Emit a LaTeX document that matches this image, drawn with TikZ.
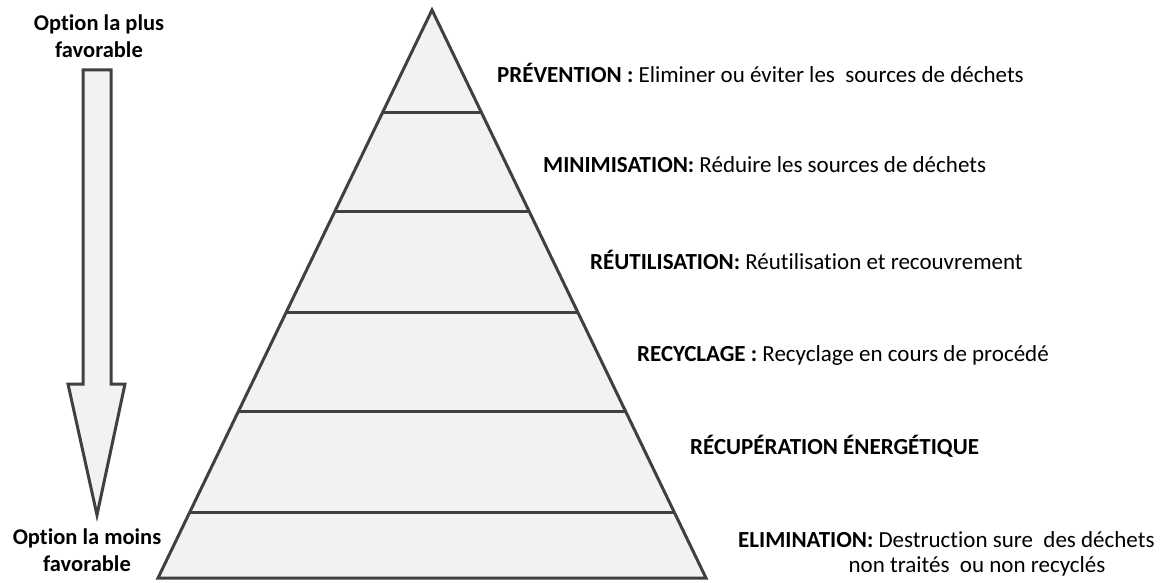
\documentclass[tikz,border=0pt]{standalone}
\usepackage{fontspec}
\setmainfont{Carlito}[Ligatures=NoCommon]
\usetikzlibrary{calc,positioning}
\definecolor{edge}{HTML}{404040}
\definecolor{pale}{HTML}{F2F2F2}
\tikzstyle{level text}=[anchor=west, inner sep=0pt, font=\fontsize{23}{27}\selectfont]
\tikzstyle{side text}=[align=center, inner sep=0pt, font=\bfseries\fontsize{22.5}{27}\selectfont]

\begin{document}
\begin{tikzpicture}[x=1pt, y=-1pt,
    shape line/.style = {draw=edge, line width=3pt, line join=miter},
    level line/.style = {draw=edge, line width=3pt}]
  \useasboundingbox (0,0) rectangle (1164,583);
  % pyramid
  \coordinate (apex) at (432,10);
  \coordinate (bl) at (158,578);
  \coordinate (br) at (706,578);
  \filldraw[shape line, fill=pale] (apex) -- (br) -- (bl) -- cycle;
  \foreach \f [count=\i] in {0.1796,0.3556,0.5317,0.7077,0.8838} {
    \draw[level line] ($(apex)!\f!(bl)$) coordinate (l\i)
      -- ($(apex)!\f!(br)$) coordinate (r\i);
  }
  % arrow
  \filldraw[shape line, fill=pale] (83,70) -- (111,70) -- (111,384) -- (125,384)
    -- (97,515) -- (68,384) -- (83,384) -- cycle;
  \node[side text] (best) at (99,36) {Option la plus\\favorable};
  \node[side text] (worst) at (87,550) {Option la moins\\favorable};
  % labels
  \node[level text] (prev) at (497,73)
    {\textbf{PRÉVENTION :} Eliminer ou éviter les~ sources de déchets};
  \node[level text] (mini) at (543,165)
    {\textbf{MINIMISATION:} Réduire les sources de déchets};
  \node[level text] (reut) at (590,260)
    {\textbf{RÉUTILISATION:} Réutilisation et recouvrement};
  \node[level text] (recy) at (637,355)
    {\textbf{RECYCLAGE :} Recyclage en cours de procédé};
  \node[level text] (recu) at (690,446)
    {\textbf{RÉCUPÉRATION ÉNERGÉTIQUE}};
  \node[level text] (elim) at (738,540)
    {\textbf{ELIMINATION:} Destruction sure~ des déchets};
  \node[level text, anchor=center] (elim2) at (977,566)
    {non traités~ ou non recyclés};
\end{tikzpicture}
\end{document}
